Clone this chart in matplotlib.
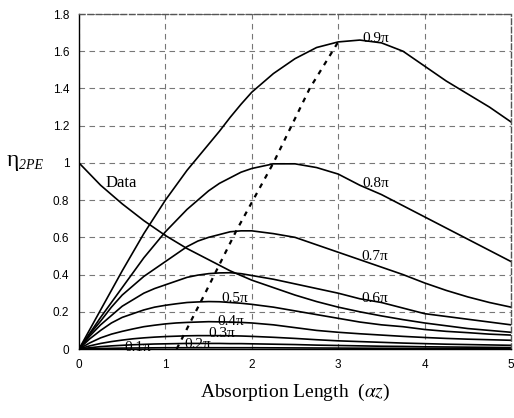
import matplotlib
matplotlib.use("Agg")
import matplotlib.pyplot as plt

plt.rcParams['mathtext.fontset'] = 'stix'

x = [0, 0.125, 0.25, 0.375, 0.5, 0.625, 0.75, 0.875, 1.0, 1.125, 1.25, 1.375,
     1.5, 1.625, 1.75, 1.875, 2.0, 2.25, 2.5, 2.75,
     3.0, 3.25, 3.5, 3.75, 4.0, 4.25, 4.5, 4.75, 5.0]

phase_labels = ["0.1\u03c0", "0.2\u03c0", "0.3\u03c0", "0.4\u03c0", "0.5\u03c0",
                "0.6\u03c0", "0.7\u03c0", "0.8\u03c0", "0.9\u03c0"]

p01 = [0, 0.0015, 0.003, 0.004, 0.005, 0.0055, 0.006, 0.0065, 0.007, 0.007, 0.007,
       0.007, 0.007, 0.007, 0.007, 0.007, 0.007, 0.0065, 0.006,
       0.0055, 0.005, 0.0045, 0.004, 0.0037, 0.0033, 0.003, 0.0027, 0.0025, 0.0023]
p02 = [0, 0.007, 0.013, 0.017, 0.020, 0.023, 0.025, 0.027, 0.028, 0.029, 0.030,
       0.030, 0.030, 0.030, 0.029, 0.029, 0.028, 0.026, 0.024,
       0.021, 0.019, 0.017, 0.015, 0.014, 0.012, 0.011, 0.010, 0.009, 0.008]
p03 = [0, 0.017, 0.030, 0.040, 0.048, 0.055, 0.060, 0.064, 0.067, 0.069, 0.071,
       0.072, 0.072, 0.072, 0.071, 0.070, 0.068, 0.063, 0.057,
       0.050, 0.044, 0.040, 0.036, 0.032, 0.029, 0.026, 0.024, 0.022, 0.020]
p04 = [0, 0.033, 0.060, 0.080, 0.095, 0.108, 0.120, 0.128, 0.135, 0.140, 0.143,
       0.145, 0.147, 0.146, 0.145, 0.143, 0.140, 0.130, 0.115,
       0.100, 0.090, 0.082, 0.075, 0.068, 0.062, 0.057, 0.053, 0.050, 0.047]
p05 = [0, 0.055, 0.100, 0.140, 0.170, 0.190, 0.210, 0.225, 0.235, 0.243, 0.250,
       0.253, 0.255, 0.254, 0.250, 0.246, 0.240, 0.225, 0.205,
       0.185, 0.165, 0.145, 0.130, 0.120, 0.105, 0.095, 0.088, 0.080, 0.075]
p06 = [0, 0.070, 0.130, 0.180, 0.230, 0.265, 0.300, 0.325, 0.345, 0.365, 0.385,
       0.397, 0.405, 0.409, 0.410, 0.405, 0.395, 0.375, 0.350,
       0.325, 0.300, 0.270, 0.250, 0.220, 0.190, 0.175, 0.160, 0.145, 0.130]
p07 = [0, 0.080, 0.150, 0.225, 0.290, 0.340, 0.390, 0.430, 0.470, 0.510, 0.550,
       0.580, 0.600, 0.615, 0.630, 0.635, 0.635, 0.620, 0.600,
       0.560, 0.520, 0.480, 0.440, 0.400, 0.355, 0.315, 0.280, 0.250, 0.225]
p08 = [0, 0.085, 0.170, 0.250, 0.330, 0.410, 0.490, 0.560, 0.630, 0.690, 0.750,
       0.800, 0.850, 0.890, 0.920, 0.950, 0.970, 0.995, 0.995,
       0.975, 0.940, 0.880, 0.830, 0.770, 0.710, 0.650, 0.590, 0.530, 0.470]
p09 = [0, 0.105, 0.210, 0.315, 0.420, 0.520, 0.620, 0.710, 0.800, 0.880, 0.960,
       1.030, 1.100, 1.170, 1.245, 1.315, 1.380, 1.480, 1.560,
       1.620, 1.650, 1.660, 1.645, 1.600, 1.520, 1.440, 1.370, 1.300, 1.220]
data = [1.00, 0.94, 0.88, 0.83, 0.78, 0.735, 0.69, 0.65, 0.61, 0.575, 0.54,
        0.51, 0.48, 0.45, 0.42, 0.395, 0.37, 0.33, 0.29,
        0.255, 0.225, 0.20, 0.178, 0.158, 0.14, 0.125, 0.11, 0.10, 0.09]

peak_x = [1.13, 1.46, 1.82, 2.25, 2.67, 3.0]
peak_y = [0.0, 0.30, 0.635, 1.0, 1.40, 1.65]

x_ticks = [0, 1, 2, 3, 4, 5]
y_ticks = [0, 0.2, 0.4, 0.6, 0.8, 1.0, 1.2, 1.4, 1.6, 1.8]
y_ticklabels = ["0", "0.2", "0.4", "0.6", "0.8", "1", "1.2", "1.4", "1.6", "1.8"]

# label anchor positions (x, y) for the curve labels
label_pos = [(0.53, -0.012), (1.22, 0.008), (1.5, 0.062), (1.6, 0.128), (1.65, 0.25),
             (3.27, 0.255), (3.27, 0.48), (3.28, 0.87), (3.28, 1.65)]

fig = plt.figure(figsize=(5.14, 4.18), dpi=100)
ax = fig.add_axes([0.1537, 0.165, 0.8405, 0.8015])

for s in [p01, p02, p03, p04, p05, p06, p07, p08, p09]:
    ax.plot(x, s, color='black', lw=1.2, solid_joinstyle='round')
ax.plot(x, data, color='black', lw=1.2, solid_joinstyle='round')
ax.plot(peak_x, peak_y, color='black', lw=1.6, linestyle=(0, (2.2, 2.6)))

serif = ['Liberation Serif', 'DejaVu Serif']
for lab, (lx, ly) in zip(phase_labels, label_pos):
    ax.text(lx, ly, lab, family=serif, fontsize=11, ha='left', va='baseline')
ax.text(0.31, 0.87, "Data", family=serif, fontsize=12, ha='left', va='baseline')

ax.set_xlim(0, 5)
ax.set_ylim(0, 1.8)
ax.set_xticks(x_ticks)
ax.set_yticks(y_ticks)
ax.set_yticklabels(y_ticklabels)
ax.tick_params(length=0, labelsize=8.5, pad=7)
for lbl in ax.get_xticklabels() + ax.get_yticklabels():
    lbl.set_family(['Liberation Sans', 'DejaVu Sans'])

ax.grid(True, color='#777777', lw=0.8, linestyle=(0, (5, 4)))
ax.set_axisbelow(True)
for side in ['top', 'right']:
    ax.spines[side].set_linestyle((0, (4, 2)))
    ax.spines[side].set_color('#555555')
    ax.spines[side].set_linewidth(1.0)
for side in ['left', 'bottom']:
    ax.spines[side].set_color('black')
    ax.spines[side].set_linewidth(1.0)

fig.text(7 / 514, 1 - 166 / 418, "\u03b7", family=serif, fontsize=17,
         ha='left', va='baseline')
fig.text(19 / 514, 1 - 169 / 418, "2PE", family=serif, fontsize=10, style='italic',
         ha='left', va='baseline')

fig.text(295 / 514, 1 - 397 / 418, r"Absorption Length  ($\alpha z$)", family=serif,
         fontsize=14, ha='center', va='baseline')

fig.savefig("out.png", dpi=100)
